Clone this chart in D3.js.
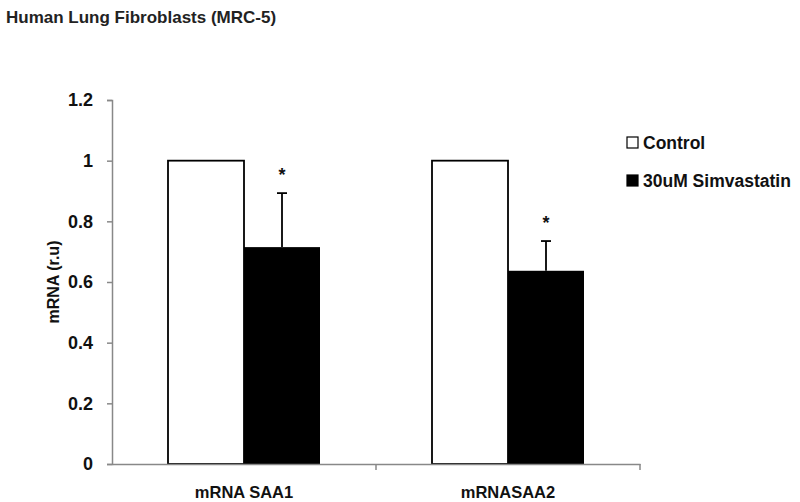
<!DOCTYPE html>
<html>
<head>
<meta charset="utf-8">
<script src="https://cdn.jsdelivr.net/npm/d3@7"></script>
<style>
  body { margin: 0; background: #fff; }
  text { font-family: "Liberation Sans", Arial, sans-serif; font-weight: bold; }
</style>
</head>
<body>
<div id="chart-area"></div>
<script>
const categories = ["mRNA SAA1", "mRNASAA2"]
const series = ["Control", "30uM Simvastatin"]
const controlValues = [1, 1]
const simvaValues = [0.715, 0.637]
const simvaErrors = [0.178, 0.098]
const yTicks = [0, 0.2, 0.4, 0.6, 0.8, 1, 1.2]

const W = 800, H = 502
const MARGIN = { LEFT: 112, RIGHT: 160, TOP: 100, BOTTOM: 38 }

const svg = d3.select("#chart-area")
  .append("svg")
    .attr("width", W)
    .attr("height", H)

// title
svg.append("text")
  .attr("x", 6)
  .attr("y", 23)
  .attr("font-size", "17px")
  .attr("fill", "#222")
  .text("Human Lung Fibroblasts (MRC-5)")

const x = d3.scaleBand()
  .domain(categories)
  .range([MARGIN.LEFT, W - MARGIN.RIGHT])

const xs = d3.scaleBand()
  .domain(series)
  .range([56, 208])

const y = d3.scaleLinear()
  .domain([0, 1.2])
  .range([H - MARGIN.BOTTOM, MARGIN.TOP])

// y axis
const yAxis = svg.append("g")
  .attr("transform", `translate(${MARGIN.LEFT}, 0)`)
  .call(d3.axisLeft(y).tickValues(yTicks).tickSize(5).tickPadding(14).tickFormat(d => d3.format("")(d)))
yAxis.select(".domain").attr("stroke", "#888").attr("stroke-width", 1.5)
yAxis.selectAll(".tick line").attr("stroke", "#888").attr("stroke-width", 1.5)
yAxis.selectAll(".tick text")
  .attr("font-size", "18px")
  .attr("font-family", "'Liberation Sans', Arial, sans-serif")
  .attr("font-weight", "bold")
  .attr("fill", "#111")

// y label
svg.append("text")
  .attr("transform", `translate(59, ${y(0.6)}) rotate(-90)`)
  .attr("text-anchor", "middle")
  .attr("font-size", "16px")
  .attr("fill", "#111")
  .text("mRNA (r.u)")

// bars
const rows = categories.map((c, i) => ({ cat: c, control: controlValues[i], simva: simvaValues[i], err: simvaErrors[i] }))

const groups = svg.selectAll(".grp")
  .data(rows)
  .enter().append("g")
    .attr("transform", d => `translate(${x(d.cat)}, 0)`)

groups.append("rect")
  .attr("x", xs("Control"))
  .attr("y", d => y(d.control))
  .attr("width", xs.bandwidth())
  .attr("height", d => y(0) - y(d.control))
  .attr("fill", "#fff")
  .attr("stroke", "#000")
  .attr("stroke-width", 1.8)

groups.append("rect")
  .attr("x", xs("30uM Simvastatin"))
  .attr("y", d => y(d.simva))
  .attr("width", xs.bandwidth())
  .attr("height", d => y(0) - y(d.simva))
  .attr("fill", "#000")

// error bars
const cx = xs("30uM Simvastatin") + xs.bandwidth() / 2
groups.append("line")
  .attr("x1", cx).attr("x2", cx)
  .attr("y1", d => y(d.simva))
  .attr("y2", d => y(d.simva + d.err))
  .attr("stroke", "#000")
  .attr("stroke-width", 1.8)
groups.append("line")
  .attr("x1", cx - 5).attr("x2", cx + 5)
  .attr("y1", d => y(d.simva + d.err))
  .attr("y2", d => y(d.simva + d.err))
  .attr("stroke", "#000")
  .attr("stroke-width", 1.8)
groups.append("text")
  .attr("x", cx)
  .attr("y", d => y(d.simva + d.err) - 12)
  .attr("text-anchor", "middle")
  .attr("font-size", "18px")
  .attr("fill", "#111")
  .text("*")

// x axis
const xAxis = svg.append("g")
  .attr("transform", `translate(0, ${y(0)})`)
  .call(d3.axisBottom(x).tickSize(0).tickPadding(22))
xAxis.select(".domain").attr("stroke", "#888").attr("stroke-width", 1.5)
xAxis.selectAll(".tick text")
  .attr("font-size", "16.5px")
  .attr("font-family", "'Liberation Sans', Arial, sans-serif")
  .attr("font-weight", "bold")
  .attr("fill", "#111")
// category separators
const seps = categories.map(c => x(c) + x.bandwidth())
svg.selectAll(".sep")
  .data(seps)
  .enter().append("line")
    .attr("x1", d => d).attr("x2", d => d)
    .attr("y1", y(0)).attr("y2", y(0) + 6)
    .attr("stroke", "#888")
    .attr("stroke-width", 1.5)

// legend
const legend = svg.selectAll(".leg")
  .data(series)
  .enter().append("g")
    .attr("transform", (d, i) => `translate(627, ${137 + i * 38})`)
legend.append("rect")
  .attr("width", 11)
  .attr("height", 11)
  .attr("fill", (d, i) => i === 0 ? "#fff" : "#000")
  .attr("stroke", "#000")
  .attr("stroke-width", 1.2)
legend.append("text")
  .attr("x", 16)
  .attr("y", 12)
  .attr("font-size", "17.5px")
  .attr("fill", "#111")
  .text(d => d)
</script>
</body>
</html>
